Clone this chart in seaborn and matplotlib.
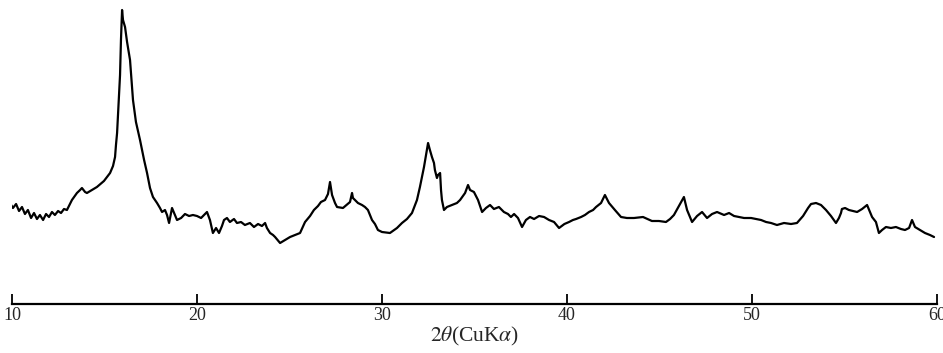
import numpy as np
import pandas as pd
import matplotlib
matplotlib.use("Agg")
import matplotlib.pyplot as plt
import seaborn as sns

# Diffraction trace: 2-theta (degrees) and relative intensity (arbitrary units)
two_theta = [
    9.89, 10.05, 10.22, 10.38, 10.54, 10.70, 10.86, 11.03, 11.19, 11.35,
    11.51, 11.68, 11.84, 12.00, 12.16, 12.32, 12.49, 12.65, 12.81, 12.97,
    13.24, 13.51, 13.68, 13.78, 13.95, 14.05, 14.32, 14.59, 14.97, 15.30,
    15.46, 15.57, 15.62, 15.68, 15.73, 15.78, 15.84, 15.89, 15.95, 16.00,
    16.11, 16.22, 16.38, 16.54, 16.70, 16.92, 17.14, 17.30, 17.46, 17.62,
    17.84, 18.00, 18.11, 18.27, 18.38, 18.49, 18.65, 18.81, 18.92, 19.14,
    19.35, 19.57, 19.78, 20.00, 20.22, 20.43, 20.54, 20.70, 20.86, 21.03,
    21.19, 21.35, 21.46, 21.62, 21.78, 22.00, 22.16, 22.38, 22.59, 22.86,
    23.08, 23.30, 23.51, 23.68, 23.78, 23.95, 24.11, 24.22, 24.49, 24.76,
    25.03, 25.57, 25.84, 26.11, 26.32, 26.54, 26.70, 26.92, 27.08, 27.19,
    27.30, 27.46, 27.57, 27.89, 28.27, 28.38, 28.43, 28.70, 28.92, 29.08,
    29.19, 29.24, 29.46, 29.62, 29.78, 30.00, 30.43, 30.81, 31.08, 31.35,
    31.62, 31.89, 32.05, 32.16, 32.27, 32.38, 32.49, 32.59, 32.70, 32.81,
    32.86, 32.97, 33.03, 33.14, 33.19, 33.24, 33.35, 33.51, 33.78, 34.05,
    34.22, 34.49, 34.65, 34.76, 34.97, 35.19, 35.41, 35.62, 35.84, 36.05,
    36.32, 36.59, 36.81, 36.97, 37.14, 37.35, 37.57, 37.78, 38.00, 38.22,
    38.49, 38.76, 39.03, 39.30, 39.57, 39.86, 40.11, 40.32, 40.49, 40.76,
    40.97, 41.19, 41.41, 41.57, 41.84, 42.05, 42.27, 42.59, 42.92, 43.24,
    43.62, 44.11, 44.59, 44.97, 45.35, 45.57, 45.78, 46.05, 46.32, 46.49,
    46.76, 47.03, 47.30, 47.57, 47.84, 48.11, 48.49, 48.76, 49.03, 49.30,
    49.57, 49.95, 50.22, 50.49, 50.76, 51.03, 51.35, 51.73, 52.11, 52.43,
    52.76, 53.03, 53.19, 53.46, 53.73, 54.00, 54.27, 54.54, 54.70, 54.81,
    54.86, 55.03, 55.24, 55.68, 55.95, 56.22, 56.49, 56.70, 56.86, 57.03,
    57.24, 57.51, 57.78, 58.05, 58.27, 58.49, 58.65, 58.81, 59.08, 59.35,
    59.62, 59.84,
]
intensity = [
    101, 96, 100, 93, 97, 90, 94, 86, 91, 85,
    89, 84, 90, 87, 92, 89, 93, 91, 95, 94,
    104, 111, 114, 116, 112, 111, 114, 117, 123, 131,
    138, 147, 159, 171, 189, 209, 229, 264, 294, 284,
    277, 262, 244, 204, 182, 164, 144, 131, 116, 107,
    101, 96, 92, 94, 89, 81, 96, 89, 84, 86,
    90, 88, 89, 88, 86, 90, 92, 84, 71, 76,
    71, 78, 84, 86, 82, 85, 81, 82, 79, 81,
    77, 80, 78, 81, 76, 71, 69, 67, 61, 64,
    67, 71, 82, 88, 94, 98, 102, 104, 110, 122,
    109, 101, 97, 96, 102, 111, 106, 101, 99, 97,
    95, 94, 84, 80, 74, 72, 71, 76, 81, 85,
    91, 104, 117, 127, 137, 149, 161, 154, 147, 141,
    134, 126, 129, 131, 114, 104, 94, 97, 99, 101,
    104, 111, 119, 114, 112, 104, 92, 96, 99, 95,
    97, 92, 90, 87, 90, 86, 77, 84, 87, 85,
    88, 87, 84, 82, 76, 80, 82, 84, 85, 87,
    89, 92, 94, 97, 101, 109, 101, 94, 87, 86,
    86, 87, 83, 83, 82, 85, 89, 98, 107, 94,
    82, 88, 92, 86, 90, 92, 89, 91, 88, 87,
    86, 86, 85, 84, 82, 81, 79, 81, 80, 81,
    88, 96, 100, 101, 99, 94, 88, 81, 86, 91,
    95, 96, 94, 92, 95, 99, 87, 82, 71, 74,
    77, 76, 77, 75, 74, 76, 84, 77, 74, 71,
    69, 67,
]

tick_values = [10, 20, 30, 40, 50, 60]
tick_labels = ["10", "20", "30", "40", "50", "60"]

df = pd.DataFrame({"two_theta": two_theta, "intensity": intensity})

sns.set_style("white")
plt.rcParams["font.family"] = ["Liberation Serif", "DejaVu Serif"]
plt.rcParams["mathtext.fontset"] = "stix"

fig = plt.figure(figsize=(9.43, 3.53), dpi=100)
ax = fig.add_axes([12 / 943, 49 / 353, 925 / 943, 304 / 353])

sns.lineplot(data=df, x="two_theta", y="intensity", ax=ax,
             color="black", linewidth=1.6, sort=False, estimator=None)

ax.set_xlim(10, 60)
ax.set_ylim(0, 304)
for side in ("left", "right", "top"):
    ax.spines[side].set_visible(False)
ax.spines["bottom"].set_linewidth(1.6)
ax.spines["bottom"].set_color("black")

ax.set_xticks(tick_values)
ax.set_xticklabels(tick_labels, fontsize=13)
ax.tick_params(axis="x", direction="in", length=7, width=1.3,
               color="black", pad=2, bottom=True)
ax.set_yticks([])
ax.set_ylabel("")
ax.set_xlabel(r"$2\theta$(CuK$\alpha$)", fontsize=15.5, labelpad=1)

fig.savefig("out.png", dpi=100)
